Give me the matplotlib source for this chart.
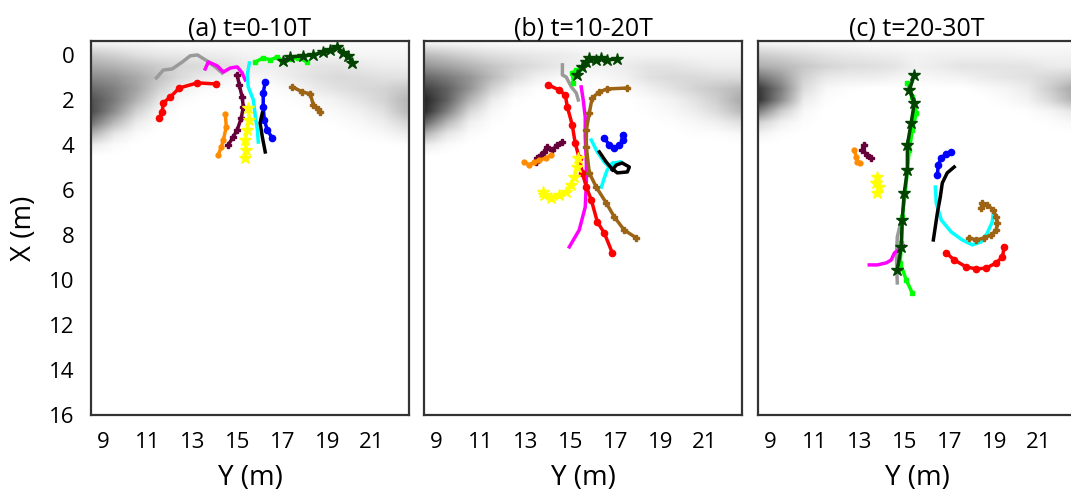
import numpy as np
import matplotlib.pyplot as plt
from matplotlib.colors import LinearSegmentedColormap

plt.rcParams['font.family'] = ['Open Sans', 'DejaVu Sans']

titles = ["(a) t=0-10T", "(b) t=10-20T", "(c) t=20-30T"]
y_ticks = [9, 11, 13, 15, 17, 19, 21]
x_ticks = [0, 2, 4, 6, 8, 10, 12, 14, 16]

# grid de densidade de fundo (linhas: X=-0.5..4.5 passo 0.5, colunas: Y=8.5..22.5 passo 1)
dens_a = [
    [0.06, 0.05, 0.04, 0.03, 0.02, 0.02, 0.02, 0.02, 0.02, 0.02, 0.02, 0.02, 0.02, 0.02, 0.02],
    [0.22, 0.18, 0.13, 0.10, 0.09, 0.08, 0.07, 0.05, 0.04, 0.05, 0.05, 0.05, 0.04, 0.04, 0.04],
    [0.34, 0.30, 0.25, 0.20, 0.16, 0.14, 0.12, 0.08, 0.07, 0.09, 0.11, 0.11, 0.09, 0.07, 0.07],
    [0.46, 0.42, 0.34, 0.24, 0.14, 0.08, 0.05, 0.03, 0.04, 0.08, 0.12, 0.15, 0.14, 0.12, 0.12],
    [0.58, 0.50, 0.36, 0.18, 0.06, 0.02, 0.01, 0.00, 0.01, 0.03, 0.08, 0.12, 0.15, 0.17, 0.22],
    [0.68, 0.52, 0.30, 0.10, 0.02, 0.00, 0.00, 0.00, 0.00, 0.01, 0.03, 0.06, 0.11, 0.17, 0.28],
    [0.70, 0.45, 0.18, 0.04, 0.00, 0.00, 0.00, 0.00, 0.00, 0.00, 0.01, 0.03, 0.06, 0.12, 0.26],
    [0.55, 0.28, 0.08, 0.01, 0.00, 0.00, 0.00, 0.00, 0.00, 0.00, 0.00, 0.01, 0.03, 0.07, 0.16],
    [0.30, 0.10, 0.02, 0.00, 0.00, 0.00, 0.00, 0.00, 0.00, 0.00, 0.00, 0.00, 0.01, 0.03, 0.07],
    [0.08, 0.02, 0.00, 0.00, 0.00, 0.00, 0.00, 0.00, 0.00, 0.00, 0.00, 0.00, 0.00, 0.00, 0.01],
    [0.00, 0.00, 0.00, 0.00, 0.00, 0.00, 0.00, 0.00, 0.00, 0.00, 0.00, 0.00, 0.00, 0.00, 0.00],
]
dens_b = [
    [0.06, 0.05, 0.04, 0.03, 0.02, 0.02, 0.02, 0.02, 0.02, 0.02, 0.02, 0.02, 0.02, 0.02, 0.02],
    [0.27, 0.22, 0.17, 0.13, 0.11, 0.09, 0.08, 0.06, 0.05, 0.05, 0.05, 0.05, 0.04, 0.04, 0.04],
    [0.42, 0.37, 0.30, 0.23, 0.17, 0.13, 0.09, 0.06, 0.06, 0.08, 0.11, 0.11, 0.09, 0.07, 0.07],
    [0.60, 0.52, 0.42, 0.27, 0.14, 0.06, 0.03, 0.02, 0.03, 0.06, 0.12, 0.15, 0.15, 0.14, 0.14],
    [0.75, 0.62, 0.42, 0.18, 0.05, 0.01, 0.00, 0.00, 0.00, 0.02, 0.06, 0.11, 0.17, 0.22, 0.27],
    [0.85, 0.62, 0.30, 0.08, 0.01, 0.00, 0.00, 0.00, 0.00, 0.00, 0.02, 0.05, 0.11, 0.19, 0.32],
    [0.82, 0.50, 0.16, 0.03, 0.00, 0.00, 0.00, 0.00, 0.00, 0.00, 0.01, 0.03, 0.07, 0.14, 0.26],
    [0.60, 0.28, 0.06, 0.01, 0.00, 0.00, 0.00, 0.00, 0.00, 0.00, 0.00, 0.01, 0.03, 0.06, 0.12],
    [0.30, 0.10, 0.02, 0.00, 0.00, 0.00, 0.00, 0.00, 0.00, 0.00, 0.00, 0.00, 0.01, 0.01, 0.03],
    [0.08, 0.02, 0.00, 0.00, 0.00, 0.00, 0.00, 0.00, 0.00, 0.00, 0.00, 0.00, 0.00, 0.00, 0.00],
    [0.00, 0.00, 0.00, 0.00, 0.00, 0.00, 0.00, 0.00, 0.00, 0.00, 0.00, 0.00, 0.00, 0.00, 0.00],
]
dens_c = [
    [0.05, 0.04, 0.04, 0.03, 0.03, 0.02, 0.02, 0.02, 0.02, 0.02, 0.02, 0.02, 0.02, 0.02, 0.02],
    [0.20, 0.17, 0.14, 0.11, 0.09, 0.08, 0.07, 0.05, 0.06, 0.06, 0.06, 0.06, 0.05, 0.05, 0.05],
    [0.32, 0.28, 0.22, 0.17, 0.14, 0.13, 0.11, 0.06, 0.08, 0.11, 0.11, 0.11, 0.11, 0.08, 0.08],
    [0.55, 0.40, 0.18, 0.09, 0.07, 0.07, 0.05, 0.03, 0.04, 0.05, 0.08, 0.10, 0.12, 0.16, 0.20],
    [0.78, 0.50, 0.14, 0.03, 0.01, 0.00, 0.00, 0.00, 0.00, 0.00, 0.02, 0.04, 0.08, 0.20, 0.34],
    [0.80, 0.45, 0.08, 0.01, 0.00, 0.00, 0.00, 0.00, 0.00, 0.00, 0.00, 0.02, 0.05, 0.15, 0.30],
    [0.50, 0.20, 0.03, 0.00, 0.00, 0.00, 0.00, 0.00, 0.00, 0.00, 0.00, 0.00, 0.01, 0.04, 0.10],
    [0.18, 0.06, 0.01, 0.00, 0.00, 0.00, 0.00, 0.00, 0.00, 0.00, 0.00, 0.00, 0.00, 0.01, 0.03],
    [0.05, 0.01, 0.00, 0.00, 0.00, 0.00, 0.00, 0.00, 0.00, 0.00, 0.00, 0.00, 0.00, 0.00, 0.00],
    [0.00, 0.00, 0.00, 0.00, 0.00, 0.00, 0.00, 0.00, 0.00, 0.00, 0.00, 0.00, 0.00, 0.00, 0.00],
    [0.00, 0.00, 0.00, 0.00, 0.00, 0.00, 0.00, 0.00, 0.00, 0.00, 0.00, 0.00, 0.00, 0.00, 0.00],
]

# trajetorias: lista de pares (Y, X)
traj_a = {
    "gray": [(11.37, 1.02), (11.68, 0.67), (12.08, 0.62), (12.53, 0.31), (12.88, 0.04),
             (13.2, 0.0), (13.64, 0.27), (14.0, 0.53), (14.31, 0.8)],
    "magenta": [(13.55, 0.62), (13.69, 0.31), (14.09, 0.49), (14.36, 0.76), (14.67, 0.58),
                (14.98, 0.53), (15.2, 0.8), (15.34, 1.11)],
    "red": [(14.04, 1.29), (13.2, 1.24), (12.39, 1.47), (11.99, 1.87), (11.68, 2.13),
            (11.63, 2.53), (11.5, 2.8)],
    "maroon": [(14.98, 0.89), (15.07, 1.33), (15.2, 1.87), (15.25, 2.31), (15.16, 2.8),
               (14.98, 3.33), (14.8, 3.64), (14.58, 4.0)],
    "orange": [(14.45, 2.62), (14.49, 3.2), (14.36, 3.78), (14.27, 4.09), (14.13, 4.44)],
    "cyan": [(15.52, 0.36), (15.43, 0.89), (15.47, 1.42), (15.7, 2.0), (15.79, 2.76),
             (15.88, 3.33), (15.92, 3.87)],
    "yellow": [(15.47, 2.36), (15.52, 2.89), (15.43, 3.33), (15.34, 3.78), (15.38, 4.22),
               (15.34, 4.58)],
    "blue": [(16.23, 1.2), (16.14, 1.69), (16.14, 2.31), (16.19, 2.89), (16.32, 3.33),
             (16.54, 3.69)],
    "black": [(16.1, 2.58), (16.0, 3.02), (16.1, 3.64), (16.23, 4.31)],
    "lime": [(15.79, 0.31), (16.14, 0.13), (16.46, 0.22), (16.77, 0.09), (16.99, 0.27),
             (17.35, 0.18), (17.71, 0.13), (18.11, 0.31)],
    "darkgreen": [(17.04, 0.27), (17.35, 0.09), (17.93, 0.04), (18.38, 0.0), (18.82, -0.13),
                  (19.13, -0.22), (19.45, -0.36), (19.71, -0.09), (19.94, 0.04), (20.12, 0.36)],
    "brown": [(17.44, 1.42), (17.88, 1.64), (18.24, 1.73), (18.38, 2.22), (18.6, 2.4),
              (18.69, 2.53)],
}
traj_b = {
    "gray": [(14.63, 0.44), (14.63, 0.89), (14.8, 0.98), (15.03, 1.42), (15.25, 1.69),
             (15.34, 2.0)],
    "red": [(14.0, 1.33), (14.49, 1.56), (14.76, 1.78), (14.85, 2.31), (15.07, 3.11),
            (15.2, 3.91), (15.38, 4.58), (15.52, 5.24), (15.7, 5.87), (15.92, 6.44),
            (16.19, 7.42), (16.5, 7.91), (16.86, 8.8)],
    "magenta": [(15.47, 1.42), (15.56, 2.0), (15.65, 2.76), (15.65, 3.64), (15.7, 4.8),
                (15.7, 5.69), (15.65, 6.76), (15.38, 7.78), (14.94, 8.53)],
    "brown": [(17.53, 1.47), (16.63, 1.51), (16.28, 1.64), (15.96, 1.91), (15.83, 2.58),
              (15.7, 3.33), (15.7, 4.09), (15.83, 5.24), (16.14, 5.87), (16.59, 6.58),
              (16.95, 7.2), (17.39, 7.78), (17.93, 8.13)],
    "maroon": [(14.63, 3.87), (14.4, 4.0), (14.18, 4.22), (13.96, 4.09), (13.82, 4.31),
               (13.69, 4.44), (13.51, 4.58), (13.46, 4.76)],
    "orange": [(14.13, 4.44), (13.91, 4.58), (13.6, 4.67), (13.38, 4.76), (13.15, 4.89),
               (12.93, 4.76)],
    "yellow": [(15.34, 4.58), (15.29, 4.98), (15.16, 5.42), (15.03, 5.78), (14.8, 6.09),
               (14.49, 6.22), (14.13, 6.36), (13.82, 6.22), (13.78, 6.09)],
    "blue": [(16.5, 3.69), (16.72, 4.0), (16.95, 4.13), (17.17, 4.0), (17.35, 3.78),
             (17.35, 3.56)],
    "cyan": [(15.92, 3.78), (16.19, 4.31), (16.5, 4.76), (16.72, 4.98), (17.04, 4.8),
             (17.26, 4.76), (16.86, 4.8), (16.63, 5.11), (16.5, 5.47), (16.37, 5.87)],
    "black": [(16.28, 4.31), (16.59, 4.76), (16.81, 5.02), (17.08, 5.24), (17.53, 5.2),
              (17.62, 4.98), (17.3, 4.8), (17.04, 4.89), (16.86, 5.11)],
    "lime": [(15.12, 1.24), (15.07, 0.8), (15.25, 0.67), (15.52, 0.58)],
    "darkgreen": [(15.29, 0.89), (15.52, 0.53), (15.7, 0.31), (15.83, 0.13), (16.14, 0.22),
                  (16.37, 0.13), (16.63, 0.22), (17.08, 0.18)],
}
traj_c = {
    "gray": [(14.85, 7.33), (14.67, 8.09), (14.63, 8.98), (14.67, 10.13)],
    "lime": [(15.12, 1.24), (15.34, 1.87), (15.52, 2.58), (15.34, 3.33), (15.21, 4.22),
             (15.12, 5.11), (15.03, 6.13), (14.89, 7.2), (14.85, 8.36), (14.8, 9.24),
             (15.07, 10.0), (15.34, 10.58)],
    "darkgreen": [(15.43, 0.89), (15.21, 1.56), (15.43, 2.13), (15.29, 3.02), (15.12, 4.0),
                  (15.12, 5.11), (14.98, 6.13), (14.89, 7.33), (14.85, 8.53), (14.67, 9.56)],
    "magenta": [(13.42, 9.33), (13.78, 9.33), (14.18, 9.24), (14.4, 9.11), (14.54, 8.8),
                (14.85, 8.58), (14.98, 8.49)],
    "orange": [(12.75, 4.22), (12.84, 4.53), (12.88, 4.76), (13.02, 4.8)],
    "maroon": [(13.2, 4.0), (13.11, 4.22), (13.33, 4.44), (13.51, 4.58)],
    "yellow": [(13.78, 5.42), (13.73, 5.69), (13.87, 5.87), (13.78, 6.13)],
    "blue": [(17.08, 4.31), (16.86, 4.4), (16.63, 4.58), (16.5, 4.89), (16.46, 5.33)],
    "black": [(17.21, 4.98), (16.9, 5.24), (16.68, 5.69), (16.59, 6.31), (16.46, 7.02),
              (16.28, 8.22)],
    "cyan": [(16.37, 5.87), (16.41, 6.58), (16.63, 7.33), (17.08, 7.87), (17.57, 8.22),
             (18.02, 8.44), (18.42, 8.31), (18.69, 7.91), (18.91, 7.42), (18.96, 6.98)],
    "brown": [(17.88, 8.13), (18.2, 8.22), (18.55, 8.13), (18.87, 8.0), (19.09, 7.78),
              (19.13, 7.47), (19.09, 7.2), (18.96, 6.89), (18.69, 6.67), (18.46, 6.58),
              (18.42, 6.8)],
    "red": [(16.86, 8.8), (17.21, 9.11), (17.75, 9.42), (18.2, 9.51), (18.64, 9.47),
            (19.09, 9.24), (19.36, 8.98), (19.45, 8.53)],
}

# estilo de cada trajetoria: cor, marcador, tamanho
estilos = {
    "gray": ("#9a9a9a", None, 0),
    "magenta": ("#ff00ff", None, 0),
    "red": ("#ff0000", "o", 4.5),
    "maroon": ("#66003a", "P", 4.5),
    "orange": ("#ff8c00", "o", 3.5),
    "cyan": ("#00ffff", None, 0),
    "yellow": ("#ffff00", "*", 9),
    "blue": ("#0000ff", "o", 4.5),
    "black": ("#000000", None, 0),
    "lime": ("#00ff00", "s", 2.5),
    "darkgreen": ("#004400", "*", 9),
    "brown": ("#9c6414", "P", 4.5),
}
ordem = ["gray", "magenta", "red", "maroon", "orange", "cyan", "yellow", "blue",
         "black", "brown", "lime", "darkgreen"]

cinza = LinearSegmentedColormap.from_list("cinza", ["#ffffff", "#000000"])

fig = plt.figure(figsize=(10.71, 5.03), dpi=100)
lefts = [91, 424, 758]
paineis = [(traj_a, dens_a), (traj_b, dens_b), (traj_c, dens_c)]

for i, (traj, dens) in enumerate(paineis):
    ax = fig.add_axes([lefts[i] / 1071, 1 - 415 / 503, 318 / 1071, 374 / 503])
    ax.imshow(np.clip(np.array(dens), 0, 1), cmap=cinza, vmin=0, vmax=1,
              interpolation="bilinear", extent=[8.0, 23.0, 4.75, -0.75],
              aspect="auto", zorder=0)
    for nome in ordem:
        if nome not in traj:
            continue
        pts = np.array(traj[nome])
        cor, mk, ms = estilos[nome]
        ax.plot(pts[:, 0], pts[:, 1], color=cor, lw=2.5, marker=mk, ms=ms,
                mec=cor, mfc=cor, zorder=2)
    ax.set_xlim(8.45, 22.65)
    ax.set_ylim(16, -0.62)
    ax.set_xticks(y_ticks)
    ax.tick_params(length=0, labelsize=16, pad=12)
    if i == 0:
        ax.set_yticks(x_ticks)
        ax.set_ylabel("X (m)", fontsize=20, labelpad=8)
    else:
        ax.set_yticks([])
    ax.set_xlabel("Y (m)", fontsize=20, labelpad=8)
    ax.set_title(titles[i], fontsize=18, pad=4)
    for s in ax.spines.values():
        s.set_color("#333333")
        s.set_linewidth(1.6)

plt.savefig("out.png", dpi=100)
